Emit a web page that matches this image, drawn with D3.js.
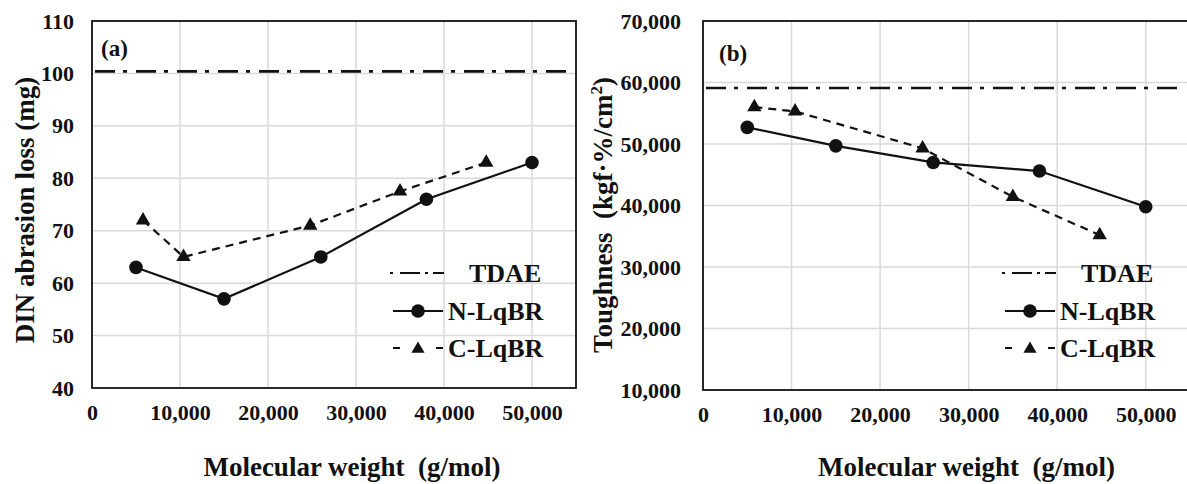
<!DOCTYPE html>
<html>
<head>
<meta charset="utf-8">
<script src="https://cdn.jsdelivr.net/npm/d3@7"></script>
<style>
  body { margin: 0; background: #fff; }
  text { font-family: "Liberation Serif", "Times New Roman", serif; font-weight: bold; fill: #111; }
</style>
</head>
<body>
<div id="chart"></div>
<script>
// values
const xTicks = [0, 10000, 20000, 30000, 40000, 50000];
const mwN = [5000, 15000, 26000, 38000, 50000];
const mwC = [5800, 10400, 24800, 35000, 44800];

const abrasionN = [63, 57, 65, 76, 83];
const abrasionC = [72, 65, 71, 77.5, 83];
const abrasionTDAE = 100.4;
const abrasionTicks = [40, 50, 60, 70, 80, 90, 100, 110];

const toughN = [52700, 49700, 47000, 45600, 39800];
const toughC = [56000, 55300, 49300, 41400, 35200];
const toughTDAE = 59100;
const toughTicks = [10000, 20000, 30000, 40000, 50000, 60000, 70000];

const legendLabels = ['TDAE', 'N-LqBR', 'C-LqBR'];

const width = 1187;
const height = 484;

const svg = d3.select('#chart')
  .append('svg')
  .attr('width', width)
  .attr('height', height);

const fmt = d3.format(',');

function drawPanel(p) {
  const x = d3.scaleLinear().domain([0, 55000]).range([p.left, p.right]);
  const y = d3.scaleLinear().domain(p.yDomain).range([p.bottom, p.top]);
  const g = svg.append('g');

  // gridlines
  g.append('g')
    .selectAll('line.v')
    .data(xTicks.slice(1))
    .enter().append('line')
    .attr('x1', d => x(d)).attr('x2', d => x(d))
    .attr('y1', p.top).attr('y2', p.bottom)
    .attr('stroke', '#d9d9d9').attr('stroke-width', 1.5);

  g.append('g')
    .selectAll('line.h')
    .data(p.yTicks.slice(1, -1))
    .enter().append('line')
    .attr('x1', p.left).attr('x2', p.right)
    .attr('y1', d => y(d)).attr('y2', d => y(d))
    .attr('stroke', '#d9d9d9').attr('stroke-width', 1.5);

  // tick labels
  const yAxis = g.append('g')
    .attr('transform', `translate(${p.left},0)`)
    .call(d3.axisLeft(y).tickValues(p.yTicks).tickSize(0).tickPadding(p.yPad).tickFormat(p.yFormat));
  const xAxis = g.append('g')
    .attr('transform', `translate(0,${p.bottom})`)
    .call(d3.axisBottom(x).tickValues(xTicks).tickSize(0).tickPadding(p.xPad).tickFormat(fmt));
  [yAxis, xAxis].forEach(a => {
    a.select('.domain').remove();
    a.attr('font-family', '"Liberation Serif", serif').attr('font-size', 22);
    a.selectAll('text')
      .attr('font-weight', 'bold')
      .attr('fill', '#1a1a1a');
  });

  // frame
  g.append('rect')
    .attr('x', p.left).attr('y', p.top)
    .attr('width', p.right - p.left).attr('height', p.bottom - p.top)
    .attr('fill', 'none').attr('stroke', '#111').attr('stroke-width', 1.8);

  // TDAE reference
  g.append('line')
    .attr('x1', p.left + 3).attr('x2', Math.min(p.right - 3, width - 4))
    .attr('y1', y(p.tdae)).attr('y2', y(p.tdae))
    .attr('stroke', '#111').attr('stroke-width', 2.6)
    .attr('stroke-dasharray', '20,8,4,9');

  const line = d3.line().x(d => x(d[0])).y(d => y(d[1]));
  const nPts = d3.zip(mwN, p.n);
  const cPts = d3.zip(mwC, p.c);

  g.append('path').datum(nPts)
    .attr('d', line).attr('fill', 'none')
    .attr('stroke', '#111').attr('stroke-width', 2.2);
  g.append('path').datum(cPts)
    .attr('d', line).attr('fill', 'none')
    .attr('stroke', '#111').attr('stroke-width', 2.2)
    .attr('stroke-dasharray', '8,6');

  g.selectAll('circle.n')
    .data(nPts)
    .enter().append('circle')
    .attr('cx', d => x(d[0])).attr('cy', d => y(d[1]))
    .attr('r', 6.8).attr('fill', '#111');

  const tri = d3.symbol().type(d3.symbolTriangle).size(90);
  g.selectAll('path.c')
    .data(cPts)
    .enter().append('path')
    .attr('d', tri)
    .attr('transform', d => `translate(${x(d[0])},${y(d[1])})`)
    .attr('fill', '#111');

  // panel letter
  g.append('text')
    .attr('x', p.letterX).attr('y', p.letterY)
    .attr('font-family', 'Lato, "Open Sans", sans-serif')
    .attr('font-weight', 'bold').attr('font-size', 23)
    .text(p.letter);

  // axis titles
  g.append('text')
    .attr('x', (p.left + p.right) / 2 + p.xTitleShift).attr('y', 476)
    .attr('text-anchor', 'middle').attr('font-size', 27)
    .attr('xml:space', 'preserve')
    .text('Molecular weight  (g/mol)');

  const yt = g.append('text')
    .attr('transform', `translate(${p.yTitleX},${p.yTitleY}) rotate(-90)`)
    .attr('text-anchor', 'middle').attr('font-size', 27)
    .attr('xml:space', 'preserve');
  p.yTitle(yt);

  // legend
  const lx = p.legendX;
  const rows = [273, 311, 348];
  const lg = g.append('g');
  lg.append('line')
    .attr('x1', lx).attr('x2', lx + 54)
    .attr('y1', rows[0]).attr('y2', rows[0])
    .attr('stroke', '#111').attr('stroke-width', 2.2)
    .attr('stroke-dasharray', '3,7,20,5,3,5,14');
  lg.append('line')
    .attr('x1', lx + 3).attr('x2', lx + 53)
    .attr('y1', rows[1]).attr('y2', rows[1])
    .attr('stroke', '#111').attr('stroke-width', 2.2);
  lg.append('circle')
    .attr('cx', lx + 28).attr('cy', rows[1]).attr('r', 6.8).attr('fill', '#111');
  lg.append('line')
    .attr('x1', lx + 3).attr('x2', lx + 53)
    .attr('y1', rows[2]).attr('y2', rows[2])
    .attr('stroke', '#111').attr('stroke-width', 2.2)
    .attr('stroke-dasharray', '7,36,7');
  lg.append('path')
    .attr('d', d3.symbol().type(d3.symbolTriangle).size(75))
    .attr('transform', `translate(${lx + 28},${rows[2] + 1})`)
    .attr('fill', '#111');

  lg.selectAll('text')
    .data(legendLabels)
    .enter().append('text')
    .attr('x', (d, i) => i === 0 ? lx + 79 : lx + 58)
    .attr('y', (d, i) => rows[i] + 9)
    .attr('font-size', 26)
    .text(d => d);
}

drawPanel({
  left: 92, right: 576, top: 21, bottom: 388,
  yDomain: [40, 110], yTicks: abrasionTicks, yFormat: d3.format('d'),
  yPad: 18, xPad: 16,
  n: abrasionN, c: abrasionC, tdae: abrasionTDAE,
  letter: '(a)', letterX: 101, letterY: 56,
  xTitleShift: 18,
  yTitleX: 34, yTitleY: 210,
  yTitle: t => t.text('DIN abrasion loss (mg)'),
  legendX: 390
});

drawPanel({
  left: 703, right: 1190, top: 21, bottom: 390,
  yDomain: [10000, 70000], yTicks: toughTicks, yFormat: fmt,
  yPad: 22, xPad: 16,
  n: toughN, c: toughC, tdae: toughTDAE,
  letter: '(b)', letterX: 719, letterY: 61,
  xTitleShift: 20,
  yTitleX: 612, yTitleY: 215,
  yTitle: t => {
    t.append('tspan').text('Toughness  (kgf·%/cm');
    t.append('tspan').attr('font-size', 17).attr('dy', -10).text('2');
    t.append('tspan').attr('dy', 10).text(')');
  },
  legendX: 1002
});
</script>
</body>
</html>
